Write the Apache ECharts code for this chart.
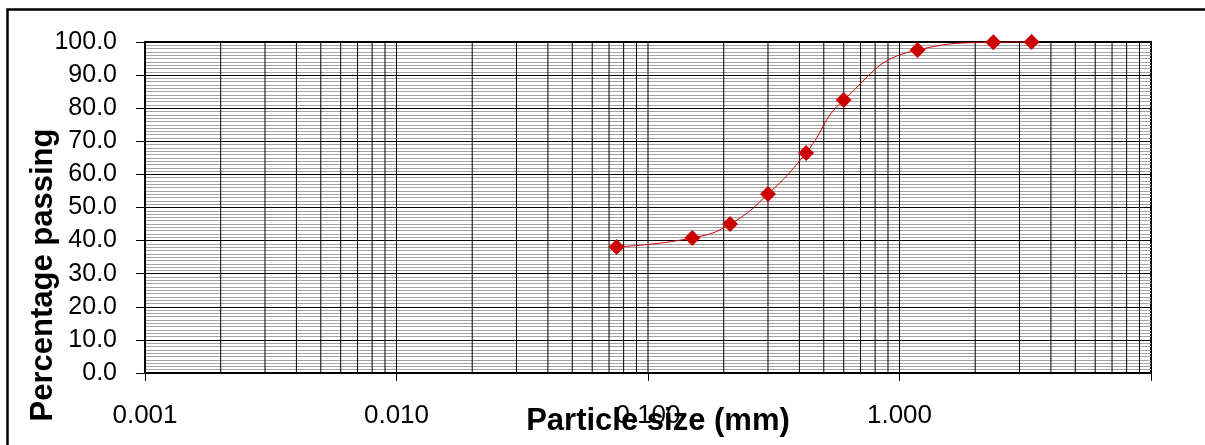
<!DOCTYPE html>
<html>
<head>
<meta charset="utf-8">
<title>Particle size distribution</title>
<script src="https://cdn.jsdelivr.net/npm/echarts@6/dist/echarts.min.js"></script>
<style>
  html, body { margin: 0; padding: 0; background: #ffffff; }
  #chart { width: 1205px; height: 445px; }
</style>
</head>
<body>
<div id="chart"></div>
<script>
// Sieve sizes (mm) and cumulative percentage passing
const sieveSizes = [0.075, 0.15, 0.212, 0.3, 0.425, 0.6, 1.18, 2.36, 3.35];
const percentPassing = [38.1, 40.8, 45.0, 54.1, 66.5, 82.5, 97.6, 99.9, 100.0];

// Log-cycle gridlines: decade starts and the 1..9 steps inside each decade
const decades = [0.001, 0.01, 0.1, 1];
const cycleSteps = [1, 2, 3, 4, 5, 6, 7, 8, 9];
const xMin = 0.001;
const xMax = 10;
const yMin = 0;
const yMax = 100;

const FONT = '"Liberation Sans", Arial, sans-serif';

// One broken polyline: a vertical segment per log-cycle step, separated by gaps
const cycleGrid = [];
decades.forEach(function (d) {
  cycleSteps.forEach(function (s) {
    const v = +(d * s).toPrecision(3);
    cycleGrid.push([v, yMin], [v, yMax], [v, '-']);
  });
});

const chart = echarts.init(document.getElementById('chart'), null, { renderer: 'canvas' });

chart.setOption({
  animation: false,
  backgroundColor: '#ffffff',
  grid: {
    left: 145, right: 54, top: 42, bottom: 72,
    show: true, borderColor: '#000000', borderWidth: 2, backgroundColor: 'transparent'
  },
  xAxis: {
    type: 'log',
    logBase: 10,
    min: xMin,
    max: xMax,
    interval: 1,
    axisLine: { show: true, onZero: false, lineStyle: { color: '#000000', width: 2 } },
    axisTick: { show: true, inside: false, length: 8, lineStyle: { color: '#000000', width: 1 } },
    axisLabel: {
      margin: 30,
      fontFamily: FONT, fontSize: 26, color: '#000000',
      formatter: function (v) { return v >= xMax ? '' : v.toFixed(3); }
    },
    splitLine: { show: false }
  },
  yAxis: {
    type: 'value',
    min: yMin,
    max: yMax,
    interval: 10,
    axisLine: { show: true, lineStyle: { color: '#000000', width: 2 } },
    axisTick: { show: true, inside: false, length: 9, lineStyle: { color: '#000000', width: 1 } },
    axisLabel: {
      margin: 28,
      fontFamily: FONT, fontSize: 25, color: '#000000',
      formatter: function (v) { return v.toFixed(1); }
    },
    splitLine: { show: true, lineStyle: { color: '#000000', width: 1 } },
    minorTick: { show: false, splitNumber: 10 },
    minorSplitLine: { show: true, lineStyle: { color: '#a4a4a4', width: 1 } }
  },
  series: [
    {
      name: 'grid',
      type: 'line',
      data: cycleGrid,
      connectNulls: false,
      showSymbol: false,
      symbol: 'none',
      silent: true,
      lineStyle: { color: '#000000', width: 1 },
      z: 1
    },
    {
      name: 'passing',
      type: 'line',
      data: sieveSizes.map(function (x, i) { return [x, percentPassing[i]]; }),
      smooth: 0.5,
      symbol: 'diamond',
      symbolSize: 16,
      clip: false,
      itemStyle: { color: '#cc0000' },
      lineStyle: { color: '#cc0000', width: 1 },
      z: 5
    }
  ],
  graphic: [
    {
      type: 'rect',
      shape: { x: 7.5, y: 9.5, width: 1400, height: 600 },
      style: { fill: 'none', stroke: '#000000', lineWidth: 2.5 },
      silent: true
    },
    {
      type: 'text',
      x: 658, y: 421,
      style: {
        text: 'Particle size (mm)',
        font: 'bold 31px ' + FONT,
        fill: '#000000',
        align: 'center',
        verticalAlign: 'middle'
      },
      z: 10
    },
    {
      type: 'text',
      x: 43, y: 275,
      rotation: Math.PI / 2,
      style: {
        text: 'Percentage passing',
        font: 'bold 31px ' + FONT,
        fill: '#000000',
        align: 'center',
        verticalAlign: 'middle'
      },
      z: 10
    }
  ]
});
</script>
</body>
</html>
